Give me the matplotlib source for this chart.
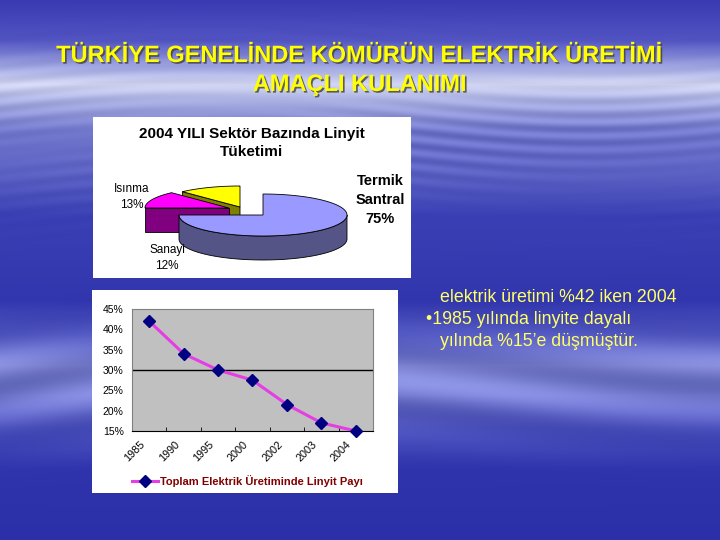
"""Slide: lignite use for electricity in Turkey (pie + share line chart)."""
import matplotlib

matplotlib.use("Agg")
import matplotlib.pyplot as plt
import matplotlib.patheffects as pe
import matplotlib.transforms as mtransforms
import numpy as np
from matplotlib.colors import to_rgb
from matplotlib.patches import Polygon, Rectangle

plt.rcParams["font.family"] = ["Liberation Sans", "DejaVu Sans"]

# ---- data -------------------------------------------------------------
SECTORS = ["Termik Santral", "Isınma", "Sanayi"]
SECTOR_SHARE = [75, 13, 12]
SECTOR_TOP = ["#9999ff", "#ff00ff", "#ffff00"]
SECTOR_SIDE = ["#545486", "#800080", "#808000"]

YEARS = ["1985", "1990", "1995", "2000", "2002", "2003", "2004"]
LIGNITE_SHARE = [0.42, 0.34, 0.30, 0.275, 0.215, 0.17, 0.15]

TITLE = "TÜRKİYE GENELİNDE KÖMÜRÜN ELEKTRİK ÜRETİMİ\nAMAÇLI KULANIMI"
PIE_TITLE = "2004 YILI Sektör Bazında Linyit\nTüketimi"
LEGEND = "Toplam Elektrik Üretiminde Linyit Payı"

W, H = 720, 540
fig = plt.figure(figsize=(7.2, 5.4), dpi=100)
ov = fig.add_axes([0, 0, 1, 1])
ov.set_xlim(0, W)
ov.set_ylim(H, 0)
ov.axis("off")

# ---- background (blue with pale streaks) --------------------------------
stops = [
    (0, "#3a3ab2"), (40, "#5254c2"), (68, "#a4aae2"), (84, "#d2d6f2"),
    (100, "#aab0e2"), (130, "#7278cc"), (175, "#5a60c2"), (215, "#3a40b4"),
    (300, "#3236ae"), (335, "#5258c0"), (365, "#8086d4"), (395, "#747ace"),
    (430, "#4a50bc"), (470, "#2f33ac"), (540, "#2c30a8"),
]
ys = np.arange(H)
sy = [s[0] for s in stops]
cols = np.array([to_rgb(s[1]) for s in stops])
prof = np.stack([np.interp(ys, sy, cols[:, k]) for k in range(3)], axis=1)
xx, yy = np.meshgrid(np.arange(W), ys)
fine = np.sin(yy * 0.45 + np.sin(xx * 0.008) * 6) * np.sin(xx * 0.004 + yy * 0.02)
soft = np.sin(yy * 0.11 + np.sin(xx * 0.006) * 3 + xx * 0.004)
img = (prof[:, None, :]
       + (0.06 * fine * np.exp(-((yy - 130) / 60) ** 2))[..., None]
       + (0.09 * soft * np.exp(-((yy - 385) / 45) ** 2))[..., None])
ov.imshow(np.clip(img, 0, 1), extent=[0, W, H, 0], aspect="auto", zorder=0)

# ---- title --------------------------------------------------------------
ov.text(
    360, 70, TITLE, ha="center", va="center", fontsize=17, fontweight="bold",
    color="#ffff00", linespacing=1.33, zorder=5,
    path_effects=[pe.withSimplePatchShadow(offset=(1.2, -1.2), shadow_rgbFace="#404040", alpha=0.8)],
)

# ---- pie box ------------------------------------------------------------
ov.add_patch(Rectangle((93, 117), 318, 161, facecolor="white", edgecolor="none", zorder=1))
ov.text(252, 143, PIE_TITLE, ha="center", va="center", fontsize=11,
        fontweight="bold", linespacing=1.4, zorder=3)

CX, CY, A, B, D = 263, 215, 84, 21, 24
offsets = [(0, 0), (-34, -7), (-23, -8)]


def ell(cx, cy, t):
    r = np.radians(t)
    return np.column_stack([cx + A * np.cos(r), cy - B * np.sin(r)])


# slice angle ranges, clockwise from 12 o'clock
ranges = []
start = 90.0
for v in SECTOR_SHARE:
    end = start - v * 3.6
    ranges.append((end, start))
    start = end

draw_order = [2, 1, 0]
for k, i in enumerate(draw_order):
    t1, t2 = ranges[i]
    cx, cy = CX + offsets[i][0], CY + offsets[i][1]
    kw = dict(edgecolor="black", linewidth=0.6, zorder=2 + k * 0.1)
    # outer wall (front half only)
    lo, hi = max(t1, -180), min(t2, 0)
    if hi > lo:
        arc = ell(cx, cy, np.linspace(lo, hi, 80))
        wall = np.vstack([arc, (arc + [0, D])[::-1]])
        ov.add_patch(Polygon(wall, facecolor=SECTOR_SIDE[i], **kw))
    # radial cut faces whose outward normal points toward the viewer
    for t, n in ((t1, t1 - 90), (t2, t2 + 90)):
        if np.sin(np.radians(n)) < -0.1:
            e = ell(cx, cy, [t])[0]
            face = [(cx, cy), tuple(e), (e[0], e[1] + D), (cx, cy + D)]
            ov.add_patch(Polygon(face, facecolor=SECTOR_SIDE[i], **kw))
    top = np.vstack([[cx, cy], ell(cx, cy, np.linspace(t1, t2, 120))])
    ov.add_patch(Polygon(top, facecolor=SECTOR_TOP[i], **kw))

ov.text(380, 200, f"Termik\nSantral\n{SECTOR_SHARE[0]}%", ha="center", va="center",
        fontsize=10.5, fontweight="bold", linespacing=1.45, zorder=3)
ov.text(132, 197, f"{SECTORS[1]}\n{SECTOR_SHARE[1]}%", ha="center", va="center",
        fontsize=8.5, linespacing=1.35, zorder=3)
ov.text(167, 258, f"{SECTORS[2]}\n{SECTOR_SHARE[2]}%", ha="center", va="center",
        fontsize=8.5, linespacing=1.35, zorder=3)

# ---- line chart box -----------------------------------------------------
ov.add_patch(Rectangle((92, 290), 306, 203, facecolor="white", edgecolor="none", zorder=1))

ax = fig.add_axes([132 / W, 1 - 431 / H, 241 / W, 122 / H])
ax.set_facecolor("#c0c0c0")
for s in ax.spines.values():
    s.set_color("#808080")
    s.set_linewidth(0.8)
ax.spines["bottom"].set_color("black")
x = np.arange(len(YEARS))
ax.axhline(0.30, color="black", linewidth=1, zorder=1)
ax.plot(x, LIGNITE_SHARE, color="#e43ee4", linewidth=2.2, marker="D", markersize=6,
        markerfacecolor="#000080", markeredgecolor="#000080", zorder=3,
        label=LEGEND, clip_on=False)
ax.set_xlim(-0.5, len(YEARS) - 0.5)
ax.set_ylim(0.15, 0.45)
yt = np.arange(0.15, 0.451, 0.05)
ax.set_yticks(yt)
ax.set_yticklabels([f"{int(round(v * 100))}%" for v in yt])
ax.tick_params(axis="y", length=0, labelsize=7.5, pad=6)
ax.set_xticks(x)
ax.set_xticklabels(YEARS, rotation=45, ha="right", va="center", rotation_mode="anchor", fontsize=7.8)
ax.tick_params(axis="x", length=0, pad=8.4)
shift = mtransforms.ScaledTranslation(-6 / 100, 0, fig.dpi_scale_trans)
for lab in ax.get_xticklabels():
    lab.set_transform(lab.get_transform() + shift)
ax.set_xticks(np.arange(0.5, len(YEARS) - 0.5), minor=True)
ax.tick_params(axis="x", which="minor", direction="in", length=3, color="black")

leg = ax.legend(loc="center left", bbox_to_anchor=(126 / W, 1 - 481 / H),
                bbox_transform=fig.transFigure, frameon=False, fontsize=8,
                handlelength=2.4, handletextpad=0.2, borderpad=0)
for t in leg.get_texts():
    t.set_color("#800000")
    t.set_fontweight("bold")

# ---- bullet text ---------------------------------------------------------
txt = dict(fontsize=12.8, color="#ffff66", va="center", zorder=5)
ov.text(440, 297, "elektrik üretimi %42 iken 2004", **txt)
ov.text(426, 319, "•1985 yılında linyite dayalı", **txt)
ov.text(440, 342, "yılında %15’e düşmüştür.", **txt)

fig.savefig("out.png", dpi=100)
